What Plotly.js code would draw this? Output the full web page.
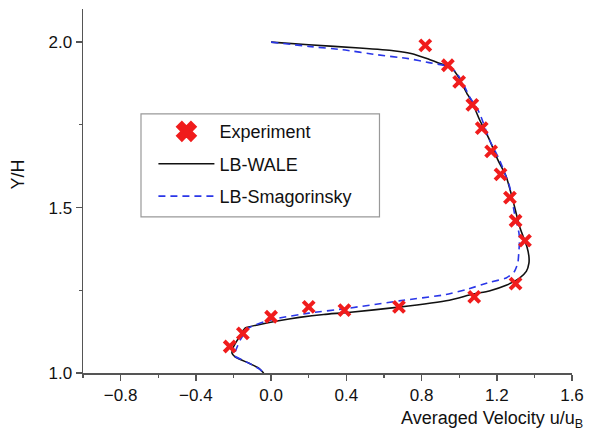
<!DOCTYPE html>
<html>
<head>
<meta charset="utf-8">
<script src="https://cdn.plot.ly/plotly-3.0.1.min.js"></script>
<style>
  html, body { margin: 0; padding: 0; background: #fff; }
  #chart { width: 590px; height: 434px; }
</style>
</head>
<body>
<div id="chart"></div>
<script>
// Measured velocity profile (u/uB against Y/H)
const expU = [0.82, 0.94, 1.00, 1.07, 1.12, 1.17, 1.22, 1.27, 1.30, 1.35, 1.30, 1.08, 0.68, 0.39, 0.20, 0.00, -0.15, -0.22];
const expY = [1.99, 1.93, 1.88, 1.81, 1.74, 1.67, 1.60, 1.53, 1.46, 1.40, 1.27, 1.23, 1.20, 1.19, 1.20, 1.17, 1.12, 1.08];

// LB-WALE simulation profile
const waleU = [0.00, 0.20, 0.47, 0.65, 0.75, 0.82, 0.89, 0.96, 1.00, 1.045, 1.063, 1.108, 1.161, 1.205, 1.25, 1.285, 1.321, 1.36, 1.371, 1.371, 1.357, 1.321, 1.25, 1.16, 1.07, 0.948, 0.68, 0.41, 0.28, 0.15, 0.04, -0.066, -0.137, -0.172, -0.199, -0.208, -0.19, -0.119, -0.066, -0.039];
const waleY = [2.000, 1.992, 1.982, 1.974, 1.965, 1.952, 1.937, 1.921, 1.891, 1.841, 1.826, 1.766, 1.705, 1.645, 1.594, 1.524, 1.443, 1.382, 1.352, 1.332, 1.307, 1.287, 1.265, 1.248, 1.238, 1.220, 1.199, 1.183, 1.177, 1.168, 1.158, 1.146, 1.136, 1.106, 1.080, 1.060, 1.048, 1.030, 1.015, 1.000];

// LB-Smagorinsky simulation profile
const smagU = [0.00, 0.20, 0.38, 0.56, 0.73, 0.84, 0.93, 0.98, 1.02, 1.054, 1.108, 1.161, 1.214, 1.268, 1.294, 1.318, 1.321, 1.317, 1.312, 1.294, 1.25, 1.161, 1.037, 0.93, 0.681, 0.414, 0.201, 0.041, -0.03, -0.119, -0.163, -0.19, -0.195, -0.155, -0.101, -0.057, -0.039];
const smagY = [2.000, 1.987, 1.977, 1.962, 1.950, 1.938, 1.928, 1.911, 1.876, 1.836, 1.786, 1.705, 1.645, 1.564, 1.483, 1.423, 1.403, 1.362, 1.332, 1.307, 1.287, 1.274, 1.252, 1.237, 1.218, 1.196, 1.181, 1.166, 1.156, 1.136, 1.101, 1.065, 1.052, 1.040, 1.025, 1.010, 1.000];

const seriesNames = ['Experiment', 'LB-WALE', 'LB-Smagorinsky'];

const RED = '#f01c1c';
const BLUE = '#2a36e8';
const AXIS = '#555555';
const FONT = 'Liberation Sans, Arial, sans-serif';

const traces = [
  {
    x: waleU, y: waleY, type: 'scatter', mode: 'lines',
    name: seriesNames[1], legendrank: 2, legendgroup: 'g2',
    line: { color: '#111111', width: 1.6, shape: 'spline', smoothing: 0.5 }
  },
  {
    x: smagU, y: smagY, type: 'scatter', mode: 'lines',
    name: seriesNames[2], legendrank: 3, legendgroup: 'g3',
    line: { color: BLUE, width: 1.6, dash: '7px,5px', shape: 'spline', smoothing: 0.5 }
  },
  {
    x: expU, y: expY, type: 'scatter', mode: 'markers',
    name: seriesNames[0], showlegend: false, legendgroup: 'g1',
    marker: { symbol: 'x-thin', size: 11, color: RED, line: { color: RED, width: 4 } }
  },
  {
    // bolder cross used for the legend key
    x: [null], y: [null], type: 'scatter', mode: 'markers',
    name: seriesNames[0], legendrank: 1, legendgroup: 'g1',
    marker: { symbol: 'x', size: 16, color: RED, line: { color: RED, width: 2.5 } }
  }
];

const layout = {
  width: 590, height: 434,
  margin: { l: 83, r: 18, t: 9, b: 61 },
  paper_bgcolor: '#ffffff', plot_bgcolor: '#ffffff',
  font: { family: FONT, size: 17, color: '#111111' },
  showlegend: true,
  legend: {
    x: 0.144, y: 0.714, xanchor: 'left', yanchor: 'top',
    bgcolor: 'rgba(0,0,0,0)', borderwidth: 0,
    font: { family: FONT, size: 18, color: '#111111' },
    itemwidth: 56, tracegroupgap: 6, traceorder: 'grouped'
  },
  xaxis: {
    range: [-1.0, 1.6], showgrid: false, zeroline: false,
    showline: true, linecolor: AXIS, linewidth: 1.5,
    ticks: 'outside', ticklen: 6, tickwidth: 1.5, tickcolor: AXIS,
    tick0: 0, dtick: 0.4, tickformat: '.1f',
    minor: { dtick: 0.2, ticks: 'outside', ticklen: 3, tickwidth: 1.2, tickcolor: AXIS },
    tickfont: { family: FONT, size: 17, color: '#111111' }
  },
  yaxis: {
    range: [1.0, 2.1], showgrid: false, zeroline: false,
    showline: true, linecolor: AXIS, linewidth: 1.5,
    ticks: 'outside', ticklen: 6, tickwidth: 1.5, tickcolor: AXIS,
    tick0: 1.0, dtick: 0.5, tickformat: '.1f',
    minor: { dtick: 0.25, ticks: 'outside', ticklen: 3, tickwidth: 1.2, tickcolor: AXIS },
    tickfont: { family: FONT, size: 17, color: '#111111' }
  },
  shapes: [
    // legend frame
    { type: 'rect', xref: 'paper', yref: 'paper',
      x0: 0.1186, x1: 0.6063, y0: 0.429, y1: 0.712,
      line: { color: '#999999', width: 1.2 }, fillcolor: 'rgba(0,0,0,0)' }
  ],
  annotations: [
    { text: 'Y/H', xref: 'paper', yref: 'paper', x: -0.133, y: 0.545,
      xanchor: 'center', yanchor: 'middle', textangle: -90, showarrow: false,
      font: { family: FONT, size: 18, color: '#111111' } },
    { text: 'Averaged Velocity u/u<sub>B</sub>', xref: 'paper', yref: 'paper',
      x: 0.6462, y: -0.09, xanchor: 'left', yanchor: 'top', showarrow: false,
      font: { family: FONT, size: 18, color: '#111111' } }
  ]
};

Plotly.newPlot('chart', traces, layout, { displayModeBar: false, staticPlot: true });
</script>
</body>
</html>
